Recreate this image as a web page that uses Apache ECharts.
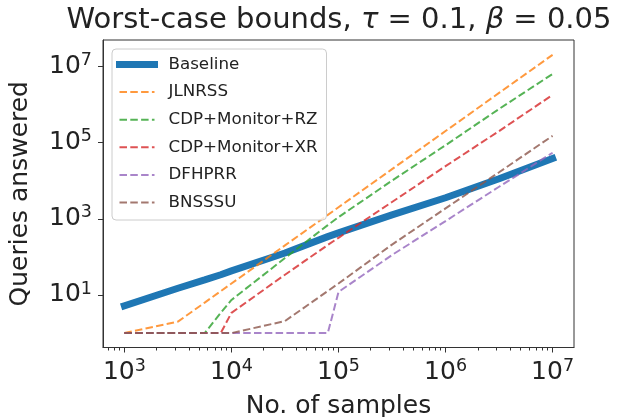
<!DOCTYPE html>
<html><head><meta charset="utf-8">
<script src="https://cdn.jsdelivr.net/npm/echarts@6/dist/echarts.min.js"></script>
<style>html,body{margin:0;padding:0;background:#fff}#c{width:618px;height:417px}</style>
</head><body><div id="c"></div>
<script>
// ---- data ----
const samples  = [1000, 3162, 5623, 7943, 10000, 31623, 79433, 100000, 316228, 1000000, 3162278, 10000000];
const baseline = [5.2, 15, 25, 34, 43, 126, 340, 427, 1260, 3550, 11200, 38000];
const jlnrss   = [1, 2, 6.3, 12.6, 20, 200, 1260, 2000, 20000, 200000, 2000000, 20000000];
const cdpRZ    = [1, 1, 1, 3.4, 7.4, 93, 680, 1100, 10000, 85000, 760000, 6300000];
const cdpXR    = [1, 1, 1, 1, 3.4, 34, 205, 316, 2750, 24000, 200000, 1780000];
const dfhprr   = [1, 1, 1, 1, 1, 1, 1, 12, 112, 870, 6900, 54000];
const bnsssu   = [1, 1, 1, 1, 1, 2.07, 12.7, 20, 210, 1870, 16600, 150000];
const seriesNames = ['Baseline', 'JLNRSS', 'CDP+Monitor+RZ', 'CDP+Monitor+XR', 'DFHPRR', 'BNSSSU'];
const xMajorTicks = [1e3, 1e4, 1e5, 1e6, 1e7];
const yMajorTicks = [1e1, 1e3, 1e5, 1e7];

// ---- styling ----
const FONT = 'DejaVu Sans';
const TXT = '#222';
const colors = ['#1f77b4', '#ff7f0e', '#2ca02c', '#d62728', '#9467bd', '#8c564b'];
const DASH = [7.5, 3.3];
const xMin = Math.pow(10, 2.8), xMax = Math.pow(10, 7.2);
const yMin = Math.pow(10, -0.378), yMax = Math.pow(10, 7.69);

const xMinorTicks = [];
for (let d = 2; d <= 7; d++) {
  for (let k = 2; k <= 9; k++) {
    const v = k * Math.pow(10, d);
    if (v >= xMin && v <= xMax) xMinorTicks.push(v);
  }
}

const allValues = [baseline, jlnrss, cdpRZ, cdpXR, dfhprr, bnsssu];
const tickFmt = v => '{b|10}{s|' + Math.round(Math.log10(v)) + '}';
const tickRich = {
  b: { fontSize: 25, fontFamily: FONT, color: TXT, lineHeight: 30 },
  s: { fontSize: 17.5, fontFamily: FONT, color: TXT, lineHeight: 14, verticalAlign: 'top' }
};

const series = allValues.map((vals, i) => ({
  name: seriesNames[i],
  type: 'line',
  xAxisIndex: 0,
  yAxisIndex: 0,
  symbol: 'none',
  smooth: false,
  data: samples.map((x, j) => [x, vals[j]]),
  lineStyle: i === 0
    ? { width: 7, color: colors[0], cap: 'square' }
    : { width: 2, color: colors[i], type: DASH, opacity: 0.8 },
  itemStyle: { color: colors[i], opacity: i === 0 ? 1 : 0.8 },
  emphasis: { disabled: true },
  z: 2 + i
}));

const chart = echarts.init(document.getElementById('c'), null, { renderer: 'canvas' });
chart.setOption({
  animation: false,
  backgroundColor: '#fff',
  title: {
    text: 'Worst-case bounds, {i|τ} = 0.1, {i|β} = 0.05',
    left: 339, textAlign: 'center', top: 6, padding: 0,
    textStyle: {
      fontSize: 29, fontWeight: 'normal', fontFamily: FONT, color: TXT,
      rich: { i: { fontSize: 29, fontStyle: 'italic', fontFamily: FONT, color: TXT } }
    }
  },
  legend: {
    orient: 'vertical', left: 112, top: 49,
    itemWidth: 35, itemHeight: 16, itemGap: 10.6,
    padding: [7, 9, 9, 4],
    borderColor: '#cccccc', borderWidth: 1, borderRadius: 4,
    backgroundColor: 'rgba(255,255,255,0.8)',
    selectedMode: false,
    textStyle: { fontSize: 16.7, fontFamily: FONT, color: TXT, padding: [0, 0, 0, 9] },
    data: seriesNames.map((n, i) => ({
      name: n,
      itemStyle: { color: 'rgba(0,0,0,0)', borderWidth: 0, opacity: 0 },
      lineStyle: i === 0
        ? { width: 7, color: colors[0], type: 'solid', cap: 'square' }
        : { width: 2, color: colors[i], type: DASH, opacity: 0.8 }
    })),
    z: 10
  },
  grid: {
    left: 103, right: 44, top: 40, bottom: 69.5,
    containLabel: false, outerBoundsMode: 'none',
    show: true, borderColor: '#333', borderWidth: 1, backgroundColor: '#fff'
  },
  xAxis: [{
    type: 'log', min: xMin, max: xMax, position: 'bottom',
    name: 'No. of samples', nameLocation: 'middle', nameGap: 46,
    nameTextStyle: { fontSize: 25, fontFamily: FONT, color: TXT },
    axisLine: { show: true, lineStyle: { color: '#333', width: 1 } },
    axisTick: { show: true, customValues: xMajorTicks, length: 5, lineStyle: { color: '#333', width: 1 } },
    axisLabel: { customValues: xMajorTicks, formatter: tickFmt, margin: 10, rich: tickRich },
    splitLine: { show: false }, minorTick: { show: false }
  }, {
    type: 'log', min: xMin, max: xMax, position: 'bottom',
    axisLine: { show: false },
    axisTick: { show: true, customValues: xMinorTicks, length: 3, lineStyle: { color: '#333', width: 1 } },
    axisLabel: { show: false },
    splitLine: { show: false }
  }],
  yAxis: [{
    type: 'log', min: yMin, max: yMax, position: 'left',
    name: 'Queries answered', nameLocation: 'middle', nameGap: 70,
    nameTextStyle: { fontSize: 25, fontFamily: FONT, color: TXT },
    axisLine: { show: true, lineStyle: { color: '#333', width: 1 } },
    axisTick: { show: true, customValues: yMajorTicks, length: 5, lineStyle: { color: '#333', width: 1 } },
    axisLabel: { customValues: yMajorTicks, formatter: tickFmt, margin: 11, rich: tickRich },
    splitLine: { show: false }, minorTick: { show: false }
  }],
  series: series
});
</script>
</body></html>
